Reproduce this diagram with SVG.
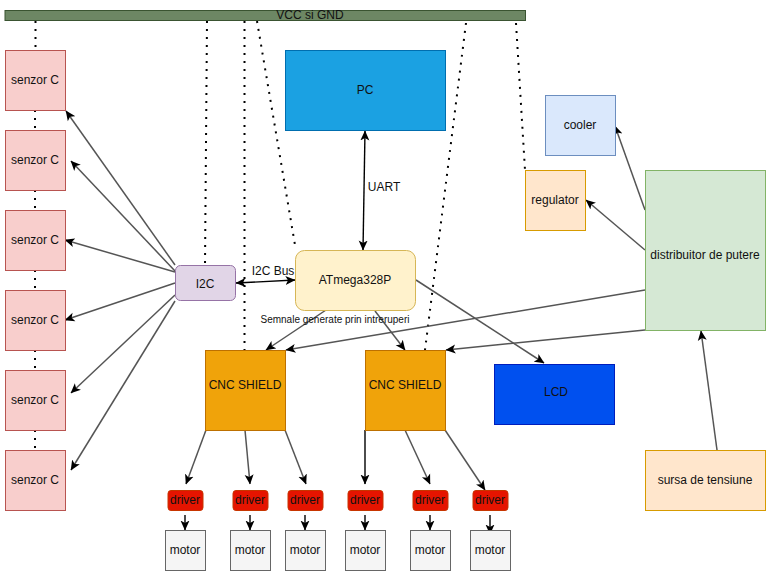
<svg xmlns="http://www.w3.org/2000/svg" width="771" height="571" viewBox="0 0 771 571">
<style>
text{font-family:"Liberation Sans",Arial,sans-serif;font-size:12px;fill:#111;text-anchor:middle;dominant-baseline:central}
.n{stroke-width:1}
.s{fill:#f8cecc;stroke:#b85450}
.d{fill:#e51400;stroke:#c73500}
.m{fill:#f5f5f5;stroke:#666}
.c{fill:#f0a30a;stroke:#bd7000}
.a{stroke:#555;stroke-width:1.5;fill:none;marker-end:url(#h)}
.b{stroke:#000;stroke-width:1.4;fill:none;marker-end:url(#h)}
.bb{stroke:#000;stroke-width:1.4;fill:none;marker-end:url(#h);marker-start:url(#hs)}
.o{stroke:#000;stroke-width:2;stroke-dasharray:2 6;fill:none}
</style>
<defs>
<marker id="h" markerUnits="userSpaceOnUse" viewBox="0 0 10 10" refX="9.5" refY="5" markerWidth="10" markerHeight="10" orient="auto"><path d="M0 0.500L10 5L0 9.500L2.500 5Z" fill="#000"/></marker>
<marker id="hs" markerUnits="userSpaceOnUse" viewBox="0 0 10 10" refX="0.5" refY="5" markerWidth="10" markerHeight="10" orient="auto"><path d="M10 0.500L0 5L10 9.500L7.500 5Z" fill="#000"/></marker>
</defs>
<g id="connectors">
<path class="o" d="M35.500 21V50M35 110V130M35 190V210M35 270V290M35 350V370M35 430V450"/>
<path class="o" d="M207 21L205 265M244.500 21V350M257 21L295 245M466 23L425 350M516 23L525 170"/>
<path class="a" d="M175 265L66 111"/>
<path class="a" d="M175 271L71 161"/>
<path class="a" d="M175 272L65 240"/>
<path class="a" d="M175 283L65 320"/>
<path class="a" d="M175 295L71 393"/>
<path class="a" d="M175 301L71 470"/>
<path class="bb" d="M236 283L295 280"/>
<path class="bb" d="M365 131L363 250"/>
<path class="a" d="M326 310L266 350"/>
<path class="a" d="M375 311L405 350"/>
<path class="a" d="M416 280L544 363"/>
<path class="a" d="M645 290L286 350"/>
<path class="a" d="M645 330L446 350"/>
<path class="a" d="M645 210L615 126"/>
<path class="a" d="M645 250L586 200"/>
<path class="a" d="M717 450L701 331"/>
<path class="a" d="M206 430L186 484"/>
<path class="a" d="M245 430L250 484"/>
<path class="a" d="M285 430L306 484"/>
<path class="b" d="M365 430V484"/>
<path class="a" d="M405 430L430 484"/>
<path class="a" d="M445 430L485 490"/>
<path class="b" d="M185 515V530"/>
<path class="b" d="M250 515V530"/>
<path class="b" d="M305 515V530"/>
<path class="b" d="M365 515V530"/>
<path class="b" d="M430 515V530"/>
<path class="b" d="M490 515V534"/>
</g>
<g id="vcc"><rect class="n" x="5" y="10.500" width="520.500" height="10" fill="#6d8764" stroke="#3a5431"/><text x="310" y="15">VCC si GND</text></g>
<g id="s1"><rect class="n s" x="5.500" y="50.500" width="60" height="60"/><text x="35" y="80">senzor C</text></g>
<g id="s2"><rect class="n s" x="5.500" y="130.500" width="60" height="60"/><text x="35" y="160">senzor C</text></g>
<g id="s3"><rect class="n s" x="5.500" y="210.500" width="60" height="60"/><text x="35" y="240">senzor C</text></g>
<g id="s4"><rect class="n s" x="5.500" y="290.500" width="60" height="60"/><text x="35" y="320">senzor C</text></g>
<g id="s5"><rect class="n s" x="5.500" y="370.500" width="60" height="60"/><text x="35" y="400">senzor C</text></g>
<g id="s6"><rect class="n s" x="5.500" y="450.500" width="60" height="60"/><text x="35" y="480">senzor C</text></g>
<g id="pc"><rect class="n" x="285.500" y="50.500" width="160" height="80" fill="#1ba1e2" stroke="#006eaf"/><text x="365" y="90">PC</text></g>
<g id="i2c"><rect class="n" x="175.500" y="265.500" width="60" height="35" rx="5" fill="#e1d5e7" stroke="#9673a6"/><text x="205" y="284">I2C</text></g>
<g id="atmega"><rect class="n" x="295.500" y="250.500" width="120" height="60" rx="9" fill="#fff2cc" stroke="#d6b656"/><text x="355" y="280">ATmega328P</text></g>
<g id="cooler"><rect class="n" x="545.500" y="95.500" width="70" height="60" fill="#dae8fc" stroke="#6c8ebf"/><text x="580" y="125">cooler</text></g>
<g id="regulator"><rect class="n" x="525.500" y="170.500" width="60" height="60" fill="#ffe6cc" stroke="#d79b00"/><text x="555" y="200">regulator</text></g>
<g id="distribuitor"><rect class="n" x="645.500" y="170.500" width="120" height="160" fill="#d5e8d4" stroke="#82b366"/><text x="705" y="255">distribuitor de putere</text></g>
<g id="sursa"><rect class="n" x="645.500" y="450.500" width="120" height="60" fill="#ffe6cc" stroke="#d79b00"/><text x="705" y="480">sursa de tensiune</text></g>
<g id="lcd"><rect class="n" x="494.500" y="364.500" width="120" height="60" fill="#0050ef" stroke="#001dbc"/><text x="556" y="392">LCD</text></g>
<g id="cnc1"><rect class="n c" x="205.500" y="350.500" width="80" height="80"/><text x="245" y="385">CNC SHIELD</text></g>
<g id="cnc2"><rect class="n c" x="365.500" y="350.500" width="80" height="80"/><text x="405" y="385">CNC SHIELD</text></g>
<g id="d1"><rect class="n d" x="168" y="490.500" width="35" height="20" rx="3"/><text x="185" y="500">driver</text></g>
<g id="d2"><rect class="n d" x="233" y="490.500" width="35" height="20" rx="3"/><text x="250" y="500">driver</text></g>
<g id="d3"><rect class="n d" x="288" y="490.500" width="35" height="20" rx="3"/><text x="305" y="500">driver</text></g>
<g id="d4"><rect class="n d" x="348" y="490.500" width="35" height="20" rx="3"/><text x="365" y="500">driver</text></g>
<g id="d5"><rect class="n d" x="413" y="490.500" width="35" height="20" rx="3"/><text x="430" y="500">driver</text></g>
<g id="d6"><rect class="n d" x="473" y="490.500" width="35" height="20" rx="3"/><text x="490" y="500">driver</text></g>
<g id="m1"><rect class="n m" x="165.500" y="530.500" width="40" height="40"/><text x="185" y="550">motor</text></g>
<g id="m2"><rect class="n m" x="230.500" y="530.500" width="40" height="40"/><text x="250" y="550">motor</text></g>
<g id="m3"><rect class="n m" x="285.500" y="530.500" width="40" height="40"/><text x="305" y="550">motor</text></g>
<g id="m4"><rect class="n m" x="345.500" y="530.500" width="40" height="40"/><text x="365" y="550">motor</text></g>
<g id="m5"><rect class="n m" x="410.500" y="530.500" width="40" height="40"/><text x="430" y="550">motor</text></g>
<g id="m6"><rect class="n m" x="470.500" y="530.500" width="40" height="40"/><text x="490" y="550">motor</text></g>
<g id="labels">
<text x="384" y="187">UART</text>
<text x="273" y="271">I2C Bus</text>
<text x="335" y="319" style="font-size:10px">Semnale generate prin intreruperi</text>
</g>
</svg>
